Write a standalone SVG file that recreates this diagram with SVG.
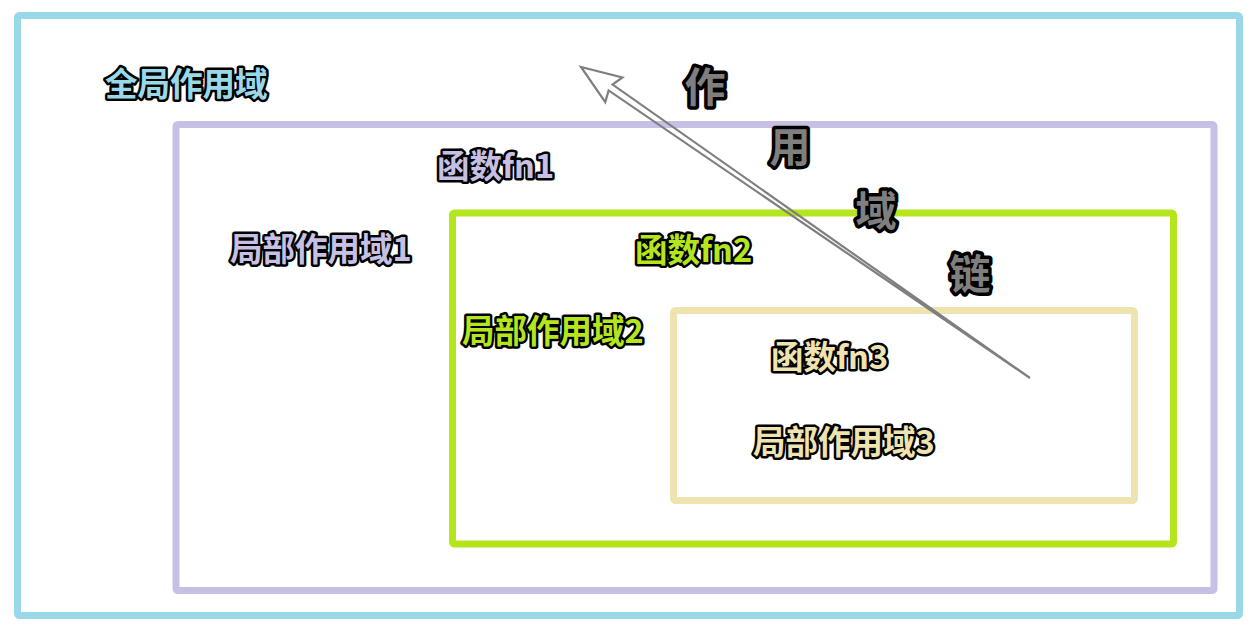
<svg xmlns="http://www.w3.org/2000/svg" width="1260" height="638" viewBox="0 0 1260 638">
<defs>
<style>
.box{fill:none;stroke-width:7;stroke-linejoin:round}
.lbl{font-family:"Noto Sans CJK SC","Noto Sans",sans-serif;font-weight:bold;font-size:32.5px;stroke:#000;stroke-width:5;stroke-linejoin:round;paint-order:stroke fill}
.big{font-family:"Noto Sans CJK SC","Noto Sans",sans-serif;font-weight:bold;font-size:41px;fill:#7f7f7f;stroke:#000;stroke-width:7;stroke-linejoin:round;paint-order:stroke fill;text-anchor:middle}
.blue{fill:#98d8e8}
.purple{fill:#c6c0e4}
.green{fill:#b5e61d}
.yellow{fill:#efe4b0}
</style>
</defs>
<rect width="1260" height="638" fill="#ffffff"/>
<g id="global-scope">
<rect class="box" x="17.5" y="15.5" width="1222" height="600" rx="2" stroke="#98d8e8"/>
<text class="lbl blue" x="105" y="96">全局作用域</text>
</g>
<g id="scope-fn1">
<rect class="box" x="176" y="124.5" width="1038" height="466" rx="2" stroke="#c6c0e4"/>
<text class="lbl purple" x="437" y="178">函数fn1</text>
<text class="lbl purple" x="230" y="261">局部作用域1</text>
</g>
<g id="scope-fn2">
<rect class="box" x="452.5" y="213" width="721" height="331" rx="2" stroke="#b5e61d"/>
<text class="lbl green" x="635" y="262">函数fn2</text>
<text class="lbl green" x="462" y="343">局部作用域2</text>
</g>
<g id="scope-fn3">
<rect class="box" x="673.5" y="310.5" width="461" height="190" rx="2" stroke="#efe4b0"/>
<text class="lbl yellow" x="771" y="369">函数fn3</text>
<text class="lbl yellow" x="753" y="454">局部作用域3</text>
</g>
<g id="chain-label">
<text class="big" x="705" y="102">作</text>
<text class="big" x="790" y="162">用</text>
<text class="big" x="876" y="226">域</text>
<text class="big" x="970" y="289">链</text>
</g>
<g id="connectors">
<path d="M1030,378 L612.6,84.6 L622.4,77.5 L581,67 L605.3,102.1 L608.6,90.4 Z" fill="none" stroke="#7f7f7f" stroke-width="2.2" stroke-linejoin="miter"/>
</g>
</svg>
